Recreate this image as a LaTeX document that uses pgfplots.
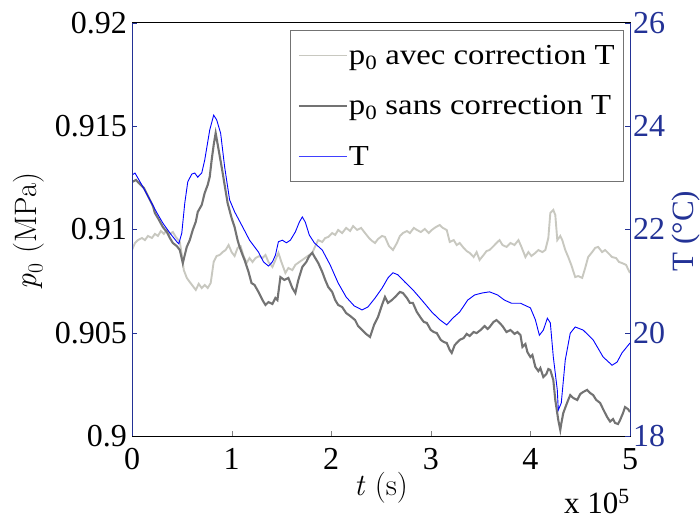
\documentclass[border=0pt]{standalone}
\usepackage{fontspec}
\newfontfamily\tnr{Liberation Serif}
\usepackage{pgfplots}
\pgfplotsset{compat=1.18}
\definecolor{axblue}{RGB}{35,50,150}
\definecolor{lgray}{RGB}{200,200,192}
\definecolor{dgray}{RGB}{115,115,115}
\definecolor{myblue}{RGB}{0,0,255}
\newcommand{\tk}{\tnr\fontsize{32}{32}\selectfont}
\newcommand{\legtxt}[1]{\scalebox{1.13}[1]{#1}}
\begin{document}
\begin{tikzpicture}[x=1pt,y=1pt]
\begin{axis}[
  at={(132pt,85pt)}, anchor=south west,
  scale only axis, width=498pt, height=413.3pt,
  xmin=0, xmax=5, ymin=0.9, ymax=0.92,
  xtick={0,1,2,3,4,5}, xticklabels={0,1,2,3,4,5},
  ytick={0.9,0.905,0.91,0.915,0.92},
  yticklabels={0.9,0.905,0.91,0.915,0.92},
  xtick pos=bottom, ytick pos=left,
  tick align=inside, major tick length=5pt,
  ticklabel style={font=\tk, inner sep=0pt},
  xticklabel style={yshift=-12pt},
  yticklabel style={xshift=-5pt},
  axis line style={black, line width=0.8pt},
  ytick style={axblue},
  scaled ticks=false,
]
\addplot[lgray, line width=1.9pt] coordinates {
(0.00,0.90900)(0.03,0.90934)(0.06,0.90948)(0.10,0.90958)(0.13,0.90948)(0.16,0.90968)
(0.20,0.90958)(0.23,0.90978)(0.26,0.90968)(0.29,0.90992)(0.32,0.90978)(0.35,0.90997)
(0.38,0.90978)(0.41,0.90987)(0.44,0.90963)(0.48,0.90939)(0.50,0.90876)(0.52,0.90803)
(0.55,0.90765)(0.58,0.90745)(0.61,0.90726)(0.64,0.90707)(0.67,0.90736)(0.70,0.90716)
(0.73,0.90731)(0.76,0.90716)(0.79,0.90740)(0.82,0.90842)(0.85,0.90871)(0.88,0.90876)
(0.91,0.90890)(0.94,0.90900)(0.97,0.90924)(1.00,0.90890)(1.03,0.90871)(1.06,0.90910)
(1.09,0.90919)(1.12,0.90871)(1.15,0.90837)(1.18,0.90861)(1.21,0.90842)(1.24,0.90861)
(1.28,0.90871)(1.31,0.90861)(1.34,0.90876)(1.37,0.90842)(1.41,0.90818)(1.44,0.90852)
(1.47,0.90886)(1.50,0.90842)(1.54,0.90789)(1.57,0.90813)(1.61,0.90803)(1.64,0.90828)
(1.68,0.90842)(1.71,0.90852)(1.75,0.90866)(1.78,0.90876)(1.81,0.90886)(1.84,0.90919)
(1.87,0.90948)(1.91,0.90939)(1.94,0.90958)(1.97,0.90963)(2.01,0.90982)(2.04,0.90973)
(2.07,0.90997)(2.11,0.90982)(2.15,0.91007)(2.19,0.90992)(2.22,0.91016)(2.26,0.90997)
(2.30,0.91007)(2.34,0.90982)(2.38,0.90958)(2.41,0.90944)(2.44,0.90934)(2.47,0.90953)
(2.51,0.90968)(2.54,0.90963)(2.58,0.90919)(2.62,0.90900)(2.66,0.90934)(2.69,0.90968)
(2.72,0.90982)(2.76,0.90992)(2.79,0.90982)(2.83,0.91007)(2.86,0.90997)(2.90,0.90987)
(2.94,0.91002)(2.98,0.90982)(3.01,0.90997)(3.05,0.91011)(3.09,0.91021)(3.12,0.91007)
(3.16,0.90997)(3.19,0.90939)(3.23,0.90948)(3.26,0.90924)(3.29,0.90934)(3.33,0.90910)
(3.36,0.90895)(3.39,0.90886)(3.43,0.90866)(3.46,0.90890)(3.49,0.90852)(3.53,0.90876)
(3.56,0.90895)(3.59,0.90900)(3.63,0.90919)(3.66,0.90934)(3.69,0.90948)(3.72,0.90924)
(3.76,0.90915)(3.80,0.90934)(3.84,0.90924)(3.88,0.90948)(3.91,0.90915)(3.95,0.90866)
(3.98,0.90890)(4.01,0.90871)(4.05,0.90886)(4.08,0.90900)(4.12,0.90890)(4.15,0.90900)
(4.18,0.90958)(4.20,0.91079)(4.23,0.91094)(4.25,0.91069)(4.27,0.90948)(4.30,0.90968)
(4.32,0.90948)(4.35,0.90900)(4.38,0.90866)(4.41,0.90828)(4.45,0.90769)(4.48,0.90774)
(4.52,0.90765)(4.55,0.90813)(4.58,0.90866)(4.62,0.90890)(4.65,0.90910)(4.68,0.90915)
(4.72,0.90890)(4.75,0.90900)(4.79,0.90881)(4.82,0.90866)(4.86,0.90861)(4.89,0.90842)
(4.92,0.90837)(4.96,0.90828)(5.00,0.90789)
};
\addplot[dgray, line width=2.1pt] coordinates {
(0.00,0.91229)(0.04,0.91239)(0.08,0.91219)(0.12,0.91200)(0.15,0.91171)(0.18,0.91142)
(0.21,0.91113)(0.23,0.91079)(0.26,0.91055)(0.31,0.91011)(0.35,0.90987)(0.38,0.90958)
(0.41,0.90934)(0.45,0.90919)(0.48,0.90900)(0.51,0.90837)(0.53,0.90876)(0.55,0.90915)
(0.58,0.90948)(0.61,0.90997)(0.64,0.91036)(0.66,0.91084)(0.70,0.91118)(0.73,0.91176)
(0.76,0.91215)(0.78,0.91253)(0.80,0.91336)(0.82,0.91408)(0.84,0.91466)(0.87,0.91384)
(0.90,0.91302)(0.93,0.91215)(0.96,0.91127)(1.00,0.91055)(1.03,0.91011)(1.06,0.90948)
(1.08,0.90915)(1.11,0.90876)(1.13,0.90852)(1.17,0.90794)(1.20,0.90740)(1.23,0.90731)
(1.27,0.90697)(1.31,0.90658)(1.34,0.90634)(1.37,0.90648)(1.41,0.90639)(1.44,0.90668)
(1.46,0.90658)(1.49,0.90769)(1.53,0.90755)(1.57,0.90765)(1.61,0.90716)(1.64,0.90692)
(1.67,0.90755)(1.71,0.90818)(1.75,0.90842)(1.78,0.90871)(1.81,0.90886)(1.84,0.90861)
(1.87,0.90837)(1.91,0.90794)(1.94,0.90755)(1.97,0.90721)(2.01,0.90697)(2.04,0.90658)
(2.07,0.90634)(2.11,0.90624)(2.15,0.90595)(2.19,0.90581)(2.24,0.90561)(2.27,0.90532)
(2.31,0.90513)(2.35,0.90494)(2.39,0.90479)(2.43,0.90537)(2.47,0.90576)(2.51,0.90634)
(2.54,0.90673)(2.57,0.90644)(2.61,0.90658)(2.65,0.90677)(2.69,0.90697)(2.72,0.90692)
(2.76,0.90668)(2.79,0.90644)(2.82,0.90644)(2.86,0.90600)(2.90,0.90571)(2.93,0.90552)
(2.96,0.90547)(3.00,0.90513)(3.03,0.90503)(3.06,0.90498)(3.10,0.90465)(3.13,0.90455)
(3.16,0.90450)(3.19,0.90416)(3.21,0.90402)(3.24,0.90440)(3.27,0.90455)(3.29,0.90465)
(3.33,0.90474)(3.36,0.90494)(3.39,0.90484)(3.43,0.90503)(3.46,0.90498)(3.50,0.90513)
(3.54,0.90532)(3.57,0.90518)(3.59,0.90527)(3.63,0.90552)(3.66,0.90561)(3.69,0.90547)
(3.72,0.90532)(3.76,0.90503)(3.80,0.90513)(3.84,0.90494)(3.87,0.90503)
(3.90,0.90489)(3.92,0.90431)(3.95,0.90445)(3.97,0.90406)(4.00,0.90382)(4.02,0.90392)
(4.05,0.90334)(4.08,0.90314)(4.10,0.90329)(4.13,0.90285)(4.16,0.90300)(4.18,0.90324)
(4.20,0.90319)(4.23,0.90271)(4.25,0.90174)(4.28,0.90077)(4.30,0.90029)(4.31,0.90060)
(4.33,0.90111)(4.36,0.90150)(4.38,0.90175)(4.40,0.90198)(4.43,0.90184)(4.47,0.90174)
(4.50,0.90203)(4.53,0.90213)(4.57,0.90223)(4.60,0.90208)(4.63,0.90198)(4.66,0.90175)
(4.70,0.90160)(4.73,0.90130)(4.77,0.90092)(4.80,0.90070)(4.83,0.90082)(4.85,0.90063)
(4.88,0.90058)(4.90,0.90077)(4.93,0.90111)(4.95,0.90140)(4.98,0.90130)(5.00,0.90116)
};
\end{axis}
\begin{axis}[
  at={(132pt,85pt)}, anchor=south west,
  scale only axis, width=498pt, height=413.3pt,
  xmin=0, xmax=5, ymin=18, ymax=26,
  axis x line=none,
  axis y line*=right,
  ytick={18,20,22,24,26}, yticklabels={18,20,22,24,26},
  tick align=inside, major tick length=5pt,
  ticklabel style={font=\tk, inner sep=0pt, axblue},
  yticklabel style={xshift=3pt},
  axis line style={axblue, line width=0.8pt},
  ytick style={axblue},
  legend style={at={(rel axis cs:0.988,0.982)}, anchor=north east,
    draw=black!55, fill=white, line width=0.6pt,
    font=\tnr\fontsize{29}{29}\selectfont,
    inner xsep=7.5pt, inner ysep=13pt, row sep=27pt,
    nodes={inner sep=1.5pt}},
  legend cell align=left,
  legend image code/.code={\draw[#1] (0pt,0pt) -- (48pt,0pt);},
]
\addlegendimage{draw=lgray, line width=1.1pt}
\addlegendentry{\legtxt{p\textsubscript{0} avec correction T}}
\addlegendimage{draw=dgray, line width=1.1pt}
\addlegendentry{\legtxt{p\textsubscript{0} sans correction T}}
\addlegendimage{draw=myblue!75, line width=1.1pt}
\addlegendentry{\legtxt{T}}
\addplot[draw=myblue, line width=0.9pt, forget plot] coordinates {
(0.00,23.05)(0.03,23.09)(0.06,22.99)(0.11,22.82)(0.18,22.57)(0.25,22.32)(0.31,22.12)
(0.38,21.93)(0.45,21.76)(0.47,21.72)(0.50,21.93)(0.53,22.51)(0.56,22.92)(0.60,23.07)
(0.63,23.09)(0.66,23.01)(0.70,23.09)(0.73,23.34)(0.78,23.92)(0.82,24.21)(0.85,24.12)
(0.89,23.86)(0.93,23.21)(0.98,22.57)(1.03,22.34)(1.11,22.05)(1.18,21.79)(1.27,21.56)
(1.32,21.37)(1.37,21.29)(1.41,21.37)(1.44,21.50)(1.47,21.76)(1.51,21.79)(1.55,21.74)
(1.59,21.79)(1.64,21.95)(1.68,22.14)(1.71,22.24)(1.74,22.14)(1.78,21.89)(1.83,21.74)
(1.91,21.60)(1.99,21.31)(2.07,20.96)(2.15,20.69)(2.23,20.52)(2.31,20.44)(2.37,20.50)
(2.44,20.67)(2.51,20.86)(2.57,21.06)(2.62,21.16)(2.67,21.12)(2.74,20.98)(2.82,20.83)
(2.91,20.63)(3.01,20.40)(3.09,20.25)(3.16,20.15)(3.22,20.28)(3.29,20.40)(3.37,20.63)
(3.44,20.73)(3.52,20.77)(3.59,20.79)(3.67,20.73)(3.74,20.63)(3.81,20.57)(3.90,20.57)
(4.00,20.48)(4.05,20.25)(4.09,19.95)(4.13,20.05)(4.17,20.28)(4.20,20.19)(4.23,19.53)
(4.27,18.89)(4.28,18.50)(4.31,18.64)(4.35,19.47)(4.40,19.99)(4.45,20.11)(4.53,20.05)
(4.63,19.86)(4.73,19.53)(4.82,19.37)(4.87,19.43)(4.92,19.61)(5.00,19.80)
};
\end{axis}
\draw[axblue, line width=0.8pt] (132,85) -- (132,498.3);
\node[font=\fontsize{31}{31}\selectfont] at (381,33) {\textit{t} (s)};
\node[font=\fontsize{31}{31}\selectfont, rotate=90] at (29,290) {\textit{p}\textsubscript{0} (MPa)};
\node[font=\tnr\fontsize{31}{31}\selectfont, rotate=90, text=axblue] at (686,290) {T (°C)};
\node[font=\tnr\fontsize{31}{31}\selectfont, anchor=base east, inner sep=0pt] at (630,8) {x 10\textsuperscript{5}};
\pgfresetboundingbox
\path[use as bounding box] (0,0) rectangle (700,521);
\end{tikzpicture}
\end{document}
